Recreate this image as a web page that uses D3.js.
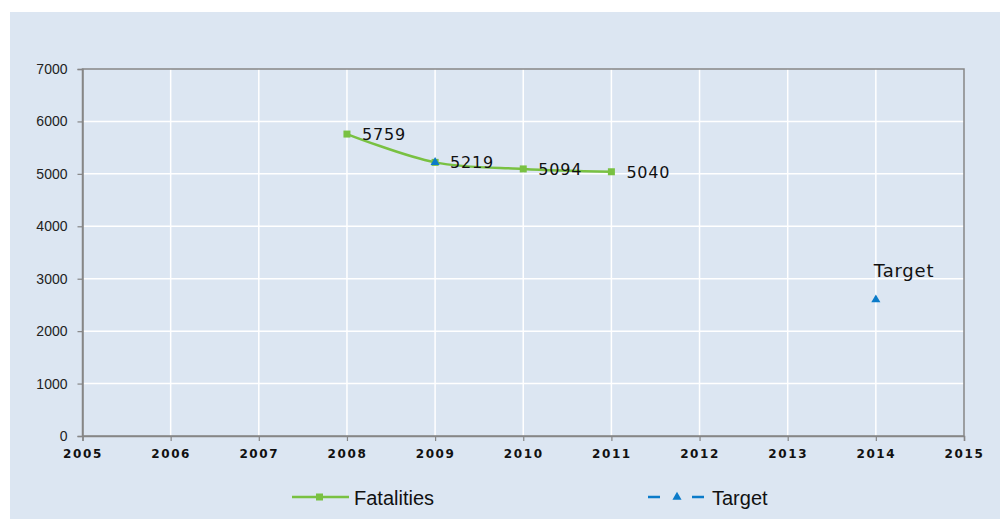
<!DOCTYPE html>
<html><head><meta charset="utf-8">
<script src="https://cdn.jsdelivr.net/npm/d3@7"></script>
<style>body{margin:0;background:#fff}svg{display:block}</style>
</head><body>
<svg id="c" width="1000" height="519"></svg>
<script>
const years = [2005,2006,2007,2008,2009,2010,2011,2012,2013,2014,2015];
const yTicks = [0,1000,2000,3000,4000,5000,6000,7000];
const fatalYears = [2008,2009,2010,2011];
const fatalValues = [5759,5219,5094,5040];
const targetYears = [2009,2014];
const targetValues = [5219,2600];
const targetLabels = ["", "Target"];

const svg = d3.select("#c");
const green = "#79c142", blue = "#0b7bc9", axisCol = "#868686";
svg.append("rect").attr("x",10).attr("y",12).attr("width",990).attr("height",507).attr("fill","#dce6f2");

const x = d3.scaleLinear().domain([2005,2015]).range([82.5,964]);
const y = d3.scaleLinear().domain([0,7000]).range([436,69]);

// grid
svg.append("g").selectAll("line").data(years.slice(1,-1)).join("line")
  .attr("x1",d=>x(d)).attr("x2",d=>x(d)).attr("y1",y(7000)).attr("y2",y(0))
  .attr("stroke","#fff").attr("stroke-width",1.5);
svg.append("g").selectAll("line").data(yTicks.slice(1,-1)).join("line")
  .attr("x1",x(2005)).attr("x2",x(2015)).attr("y1",d=>y(d)).attr("y2",d=>y(d))
  .attr("stroke","#fff").attr("stroke-width",1.5);
// border
svg.append("rect").attr("x",x(2005)).attr("y",y(7000)).attr("width",x(2015)-x(2005)).attr("height",y(0)-y(7000))
  .attr("fill","none").attr("stroke",axisCol).attr("stroke-width",1.5);

// axes
const yAxis = svg.append("g").attr("transform",`translate(${x(2005)},0)`)
  .call(d3.axisLeft(y).tickValues(yTicks).tickFormat(d3.format("d")).tickSize(5).tickPadding(10));
yAxis.select(".domain").attr("stroke",axisCol).attr("stroke-width",1.5);
yAxis.selectAll(".tick line").attr("stroke",axisCol).attr("stroke-width",1.2);
yAxis.selectAll("text").attr("font-family","Liberation Sans, Arial, sans-serif").attr("font-size",14).attr("fill","#222");

const xAxis = svg.append("g").attr("transform",`translate(0,${y(0)})`)
  .call(d3.axisBottom(x).tickValues(years).tickFormat(d3.format("d")).tickSize(5).tickPadding(8));
xAxis.select(".domain").attr("stroke",axisCol).attr("stroke-width",1.5);
xAxis.selectAll(".tick line").attr("stroke",axisCol).attr("stroke-width",1.2);
xAxis.selectAll("text").attr("font-family","DejaVu Sans, Verdana, sans-serif").attr("font-weight","bold")
  .attr("font-size",12).attr("letter-spacing","1.6px").attr("fill","#111");

// fatalities line
const fat = fatalYears.map((d,i)=>({x:d,v:fatalValues[i]}));
svg.append("path").datum(fat)
  .attr("d",d3.line().x(d=>x(d.x)).y(d=>y(d.v)).curve(d3.curveCatmullRom.alpha(0.5)))
  .attr("fill","none").attr("stroke",green).attr("stroke-width",2.5);
svg.append("g").selectAll("rect").data(fat).join("rect")
  .attr("x",d=>x(d.x)-3.5).attr("y",d=>y(d.v)-3.5).attr("width",7).attr("height",7).attr("fill",green);
svg.append("g").selectAll("text").data(fat).join("text")
  .attr("x",d=>x(d.x)+15).attr("y",d=>y(d.v)+6).text(d=>d.v)
  .attr("font-family","DejaVu Sans, Verdana, sans-serif").attr("font-size",16).attr("letter-spacing","0.8px").attr("fill","#111");

// target points
const tgt = targetYears.map((d,i)=>({x:d,v:targetValues[i],l:targetLabels[i]}));
const tri = d3.symbol().type(d3.symbolTriangle).size(36);
svg.append("g").selectAll("path").data(tgt).join("path")
  .attr("transform",d=>`translate(${x(d.x)},${y(d.v)})`).attr("d",tri).attr("fill",blue);
svg.append("g").selectAll("text").data(tgt).join("text")
  .attr("x",d=>x(d.x)-2).attr("y",d=>y(d.v)-23).text(d=>d.l)
  .attr("font-family","DejaVu Sans, Verdana, sans-serif").attr("font-size",18).attr("letter-spacing","0.8px").attr("fill","#111");

// legend
const lg = svg.append("g");
lg.append("line").attr("x1",292).attr("x2",349).attr("y1",497).attr("y2",497).attr("stroke",green).attr("stroke-width",2.5);
lg.append("rect").attr("x",316).attr("y",493.5).attr("width",7).attr("height",7).attr("fill",green);
lg.append("text").attr("x",354).attr("y",505).text("Fatalities")
  .attr("font-family","Liberation Sans, Arial, sans-serif").attr("font-size",20).attr("fill","#111");
lg.append("line").attr("x1",648).attr("x2",704).attr("y1",497).attr("y2",497).attr("stroke",blue).attr("stroke-width",2.5)
  .attr("stroke-dasharray","12 32");
lg.append("path").attr("transform","translate(677,497)").attr("d",tri).attr("fill",blue);
lg.append("text").attr("x",712).attr("y",505).text("Target")
  .attr("font-family","Liberation Sans, Arial, sans-serif").attr("font-size",20).attr("fill","#111");
</script>
</body></html>
